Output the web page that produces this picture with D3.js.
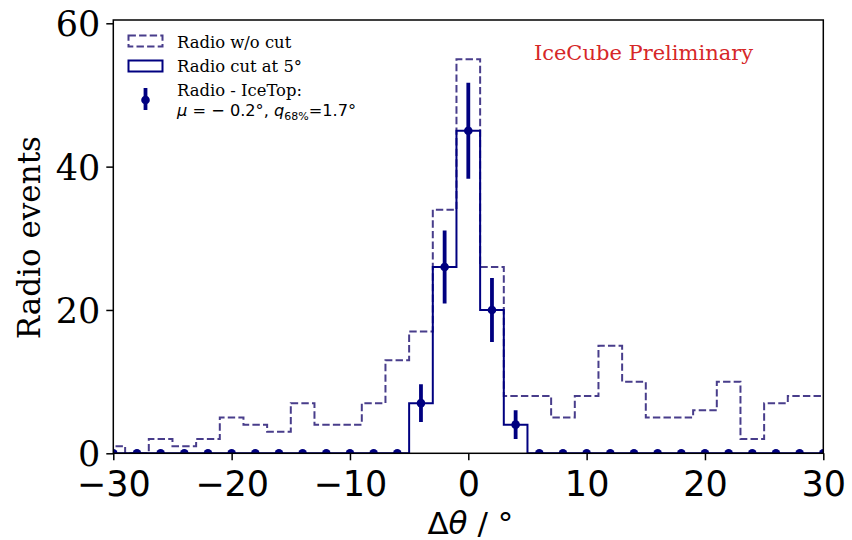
<!DOCTYPE html>
<html><head><meta charset="utf-8">
<script src="https://cdn.jsdelivr.net/npm/d3@7"></script>
<style>body{margin:0;background:#fff}</style>
</head><body>
<script>
// ---- data ----
const binEdges = d3.range(-31, 32, 2); // -31 ... 31
const binCenters = d3.range(-30, 31, 2);
const noCutCounts = [1,0,2,1,2,5,4,3,7,4,4,7,13,17,34,55,26,8,8,5,8,15,10,5,5,6,10,2,7,8,8];
const cutCounts   = [0,0,0,0,0,0,0,0,0,0,0,0,0,7,26,45,20,4,0,0,0,0,0,0,0,0,0,0,0,0,0];
const xTicks = [-30,-20,-10,0,10,20,30];
const yTicks = [0,20,40,60];
const legendLabels = ["Radio w/o cut","Radio cut at 5°","Radio - IceTop:"];

const W=852,H=540;
const m={l:113.3,t:20,r:28.7,b:86.7};
const svg=d3.select("body").append("svg").attr("width",W).attr("height",H);
const x=d3.scaleLinear().domain([-30,30]).range([m.l,W-m.r]);
const y=d3.scaleLinear().domain([0,60.46]).range([H-m.b,m.t]);

svg.append("defs").append("clipPath").attr("id","clip")
  .append("rect").attr("x",m.l).attr("y",m.t).attr("width",W-m.l-m.r).attr("height",H-m.t-m.b);

function stepPts(counts){
  const p=[[binEdges[0],0]];
  counts.forEach((v,i)=>{p.push([binEdges[i],v]);p.push([binEdges[i+1],v]);});
  p.push([binEdges[binEdges.length-1],0]);
  return p;
}
const line=d3.line().x(d=>x(d[0])).y(d=>y(d[1]));
const g=svg.append("g").attr("clip-path","url(#clip)");
g.append("path").attr("d",line(stepPts(noCutCounts))).attr("fill","none")
  .attr("stroke","#483d8b").attr("stroke-width",2).attr("stroke-dasharray","7.4,3.2");
g.append("path").attr("d",line(stepPts(cutCounts))).attr("fill","none")
  .attr("stroke","#000080").attr("stroke-width",2);
// error bars
binCenters.forEach((c,i)=>{
  const v=cutCounts[i], e=Math.sqrt(v);
  if(e>0) g.append("line").attr("x1",x(c)).attr("x2",x(c)).attr("y1",y(v-e)).attr("y2",y(v+e))
    .attr("stroke","#000080").attr("stroke-width",3.8);
  g.append("circle").attr("cx",x(c)).attr("cy",y(v)).attr("r",4.3).attr("fill","#000080");
});

// spines
svg.append("rect").attr("x",m.l).attr("y",m.t).attr("width",W-m.l-m.r).attr("height",H-m.t-m.b)
  .attr("fill","none").attr("stroke","#000").attr("stroke-width",1.5);

// axes
const xa=svg.append("g").attr("transform",`translate(0,${H-m.b})`)
  .call(d3.axisBottom(x).tickValues(xTicks).tickSize(7).tickPadding(11).tickFormat(d=>d<0?"\u2212"+(-d):d));
xa.select(".domain").remove();
xa.selectAll("line").attr("stroke-width",1.5);
xa.selectAll("text").attr("font-family","DejaVu Sans").attr("font-size",35).attr("fill","#000");
const ya=svg.append("g").attr("transform",`translate(${m.l},0)`)
  .call(d3.axisLeft(y).tickValues(yTicks).tickSize(7).tickPadding(6));
ya.select(".domain").remove();
ya.selectAll("line").attr("stroke-width",1.5);
ya.selectAll("text").attr("font-family","DejaVu Serif").attr("font-size",35).attr("fill","#000").attr("dy","0.36em");

// labels
svg.append("text").attr("transform",`translate(40,${(m.t+H-m.b)/2+1}) rotate(-90)`)
  .attr("text-anchor","middle").attr("font-family","DejaVu Serif").attr("font-size",31).text("Radio events");
const xl=svg.append("text").attr("x",(m.l+W-m.r)/2+2).attr("y",534).attr("text-anchor","middle")
  .attr("font-family","DejaVu Sans").attr("font-size",31);
xl.append("tspan").text("\u0394");
xl.append("tspan").attr("font-style","italic").text("\u03b8");
xl.append("tspan").text(" / \u00b0");

svg.append("text").attr("x",643.5).attr("y",60).attr("text-anchor","middle")
  .attr("font-family","DejaVu Serif").attr("font-size",21).attr("fill","#d62728").text("IceCube Preliminary");

// legend
const lg=svg.append("g");
lg.append("rect").attr("x",128.5).attr("y",35.5).attr("width",34).attr("height",11)
  .attr("fill","none").attr("stroke","#483d8b").attr("stroke-width",2).attr("stroke-dasharray","7.4,3.2");
lg.append("rect").attr("x",128.5).attr("y",60.5).attr("width",34).attr("height",11)
  .attr("fill","none").attr("stroke","#000080").attr("stroke-width",2);
lg.append("line").attr("x1",145.5).attr("x2",145.5).attr("y1",88).attr("y2",110).attr("stroke","#000080").attr("stroke-width",3.8);
lg.append("circle").attr("cx",145.5).attr("cy",100).attr("r",4.3).attr("fill","#000080");
[[legendLabels[0],48],[legendLabels[1],72],[legendLabels[2],96]].forEach(([t,yy])=>{
  lg.append("text").attr("x",177).attr("y",yy).attr("font-family","DejaVu Serif").attr("font-size",16.4).text(t);
});
const l4=lg.append("text").attr("x",177).attr("y",116).attr("font-family","DejaVu Sans").attr("font-size",16.2);
l4.append("tspan").attr("font-style","italic").text("\u03bc");
l4.append("tspan").text(" = \u2212 0.2\u00b0, ");
l4.append("tspan").attr("font-style","italic").text("q");
l4.append("tspan").attr("font-size",11).attr("dy",4).text("68%");
l4.append("tspan").attr("dy",-4).text("=1.7\u00b0");
</script>
</body></html>
